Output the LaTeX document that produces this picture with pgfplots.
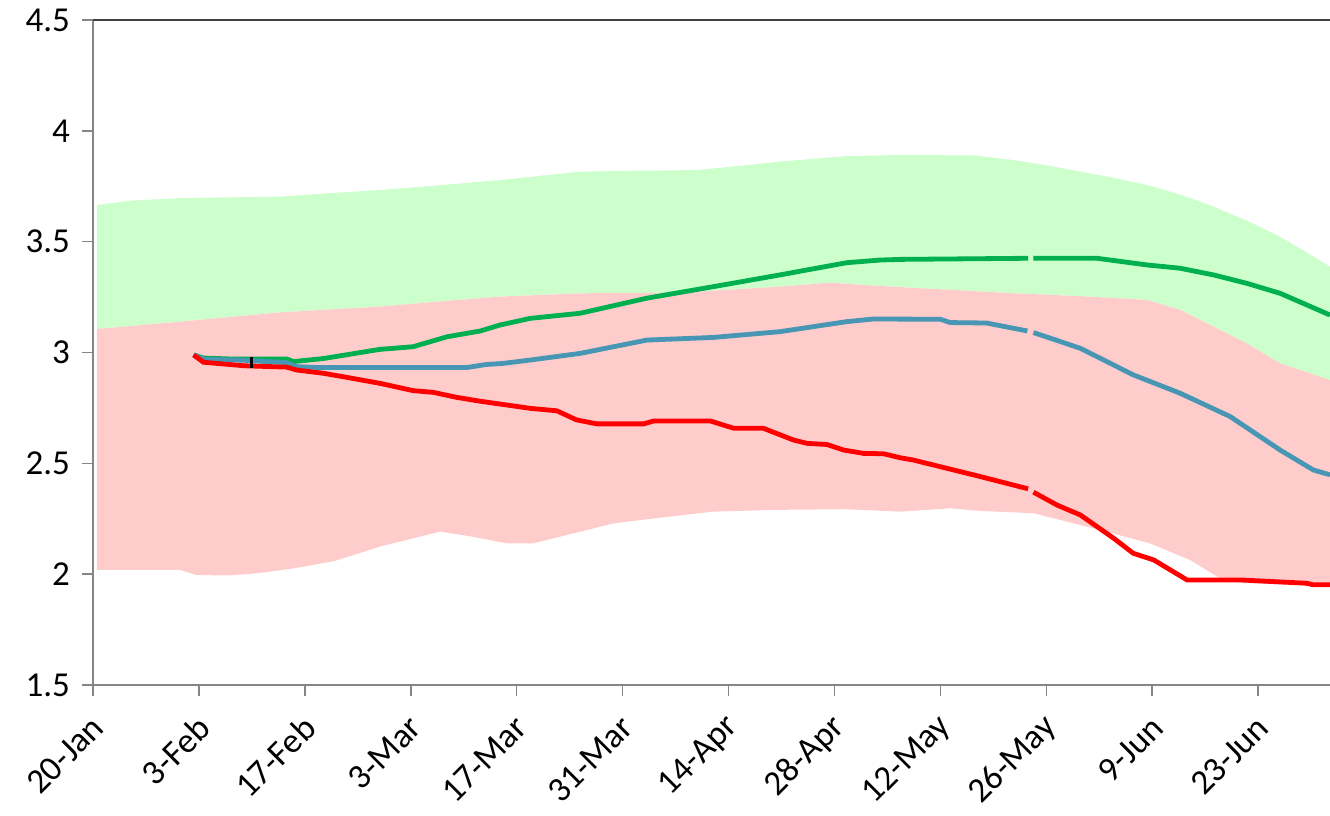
\documentclass[border=0pt]{standalone}
\usepackage{fontspec}
\setmainfont{Carlito}
\usepackage{pgfplots}
\pgfplotsset{compat=1.18}
\usepgfplotslibrary{fillbetween}
\definecolor{bandgreen}{HTML}{CCFFCC}
\definecolor{bandred}{HTML}{FFCCCC}
\definecolor{lgreen}{HTML}{00B050}
\definecolor{lblue}{HTML}{4696B4}
\definecolor{lred}{HTML}{FF0000}
\definecolor{axgray}{HTML}{868686}
\begin{document}
\begin{tikzpicture}
\begin{axis}[
  scale only axis,
  width=618.5pt, height=332.5pt,
  xmin=0, xmax=163.5, ymin=1.5, ymax=4.5,
  axis lines*=left,
  axis line style={draw=axgray, line width=0.8pt},
  tick style={draw=axgray, line width=0.8pt},
  tick align=outside,
  major tick length=5.5pt,
  xtick={0,14,28,42,56,70,84,98,112,126,140,154},
  xticklabels={20-Jan,3-Feb,17-Feb,3-Mar,17-Mar,31-Mar,14-Apr,28-Apr,12-May,26-May,9-Jun,23-Jun},
  ytick={1.5,2,2.5,3,3.5,4,4.5},
  yticklabels={1.5,2,2.5,3,3.5,4,4.5},
  ticklabel style={text=black},
  yticklabel style={font=\fontsize{17.5}{21}\selectfont, xshift=-2.5pt},
  xticklabel style={font=\fontsize{17.5}{21}\selectfont, rotate=45, anchor=east, xshift=-4pt, yshift=-11pt},
  unbounded coords=jump,
  clip=true,
]
% bands
\addplot[draw=none, name path=gu] coordinates {
(0.5,3.665) (5,3.685) (11.5,3.696) (18,3.700) (24.7,3.703) (31,3.718) (37.9,3.733) (45,3.752) (53.8,3.778) (64.4,3.816) (72,3.820) (79.8,3.823) (85,3.840) (90.8,3.861) (99.6,3.886) (106.7,3.891) (116.4,3.889) (121.7,3.868) (126,3.845) (130.5,3.816) (135,3.787) (139.3,3.756) (143.7,3.712) (148.1,3.658) (152.5,3.595) (156.9,3.522) (160,3.46) (163.5,3.387)
};
\addplot[draw=none, name path=ru] coordinates {
(0.5,3.106) (11.5,3.139) (24.7,3.181) (37.9,3.207) (45,3.228) (53.8,3.252) (64.4,3.267) (77.6,3.270) (90.8,3.297) (97.4,3.315) (104,3.300) (112,3.285) (121.7,3.267) (130,3.255) (139.3,3.237) (143.7,3.192) (148.1,3.117) (152.5,3.041) (156.9,2.951) (163.5,2.876)
};
\addplot[draw=none, name path=rl] coordinates {
(0.5,2.019) (11.5,2.019) (13.7,1.996) (18,1.994) (22,2.005) (26.9,2.028) (32,2.06) (37.9,2.124) (45.9,2.192) (50,2.17) (54.7,2.139) (58.2,2.139) (63,2.18) (68.8,2.229) (75,2.255) (82,2.282) (90,2.290) (99.6,2.293) (106.7,2.282) (113.3,2.297) (117.3,2.285) (124.3,2.275) (133.1,2.199) (139.7,2.139) (145,2.064) (148.6,1.989) (150,1.970) (152,1.960) (163.5,1.945)
};
\addplot[bandgreen, draw=none] fill between[of=gu and ru];
\addplot[bandred, draw=none] fill between[of=ru and rl];
% lines
\addplot[lgreen, line width=2.4pt] coordinates {
(13.3,2.989) (14.6,2.975) (18,2.971) (25.6,2.971) (26.5,2.959) (30.5,2.973) (37.9,3.014) (42.3,3.026) (46.8,3.071) (51.2,3.097) (53.8,3.124) (57.8,3.154) (64.4,3.177) (73.2,3.245) (82,3.297) (90.8,3.350) (99.6,3.405) (104,3.417) (106.7,3.420) (123.6,3.425) (123.9,nan) (124.3,3.425) (132.7,3.425) (139.3,3.395) (143.7,3.380) (148.1,3.350) (152.5,3.312) (156.9,3.267) (163.5,3.169)
};
\addplot[lblue, line width=2.4pt] coordinates {
(13.3,2.989) (14.6,2.970) (20,2.965) (25.6,2.954) (26.9,2.936) (30,2.932) (49.4,2.932) (52,2.946) (54,2.950) (57.8,2.966) (64.4,2.996) (73.2,3.056) (82,3.068) (90.8,3.094) (99.6,3.139) (103.1,3.151) (112,3.150) (113.3,3.135) (118.1,3.133) (123.5,3.097) (123.9,nan) (124.3,3.090) (130.5,3.019) (137.5,2.899) (143.7,2.816) (150.3,2.711) (156.9,2.560) (161.3,2.470) (163.5,2.448)
};
\addplot[lred, line width=2.4pt] coordinates {
(13.3,2.989) (14.6,2.956) (20,2.94) (25.6,2.934) (26.9,2.921) (30.5,2.906) (33.5,2.888) (37.9,2.861) (42.3,2.828) (45,2.82) (48,2.798) (51.2,2.780) (57.8,2.748) (61.3,2.737) (63.9,2.696) (66.6,2.678) (72.8,2.678) (74.1,2.691) (81.6,2.691) (84.7,2.658) (88.6,2.658) (92.6,2.605) (94.4,2.590) (97,2.585) (99.2,2.560) (101.8,2.545) (104.5,2.543) (106.7,2.525) (108.4,2.515) (112.8,2.478) (117.3,2.440) (123.6,2.385) (123.9,nan) (124.3,2.37) (127.4,2.312) (130.5,2.267) (134.9,2.162) (137.5,2.094) (140.2,2.064) (144.6,1.974) (151.6,1.974) (160.4,1.959) (161.3,1.952) (163.5,1.952)
};
% black marker bar
\addplot[black, line width=1.5pt] coordinates {(21,2.929) (21,2.981)};
\draw[darkgray, line width=1pt] (rel axis cs:0,1) -- (rel axis cs:1,1);
\end{axis}
\pgfresetboundingbox
\path[use as bounding box] (current axis.south west) ++(-46.5pt,-65.5pt) rectangle ([yshift=10pt]current axis.north east);
\end{tikzpicture}
\end{document}
